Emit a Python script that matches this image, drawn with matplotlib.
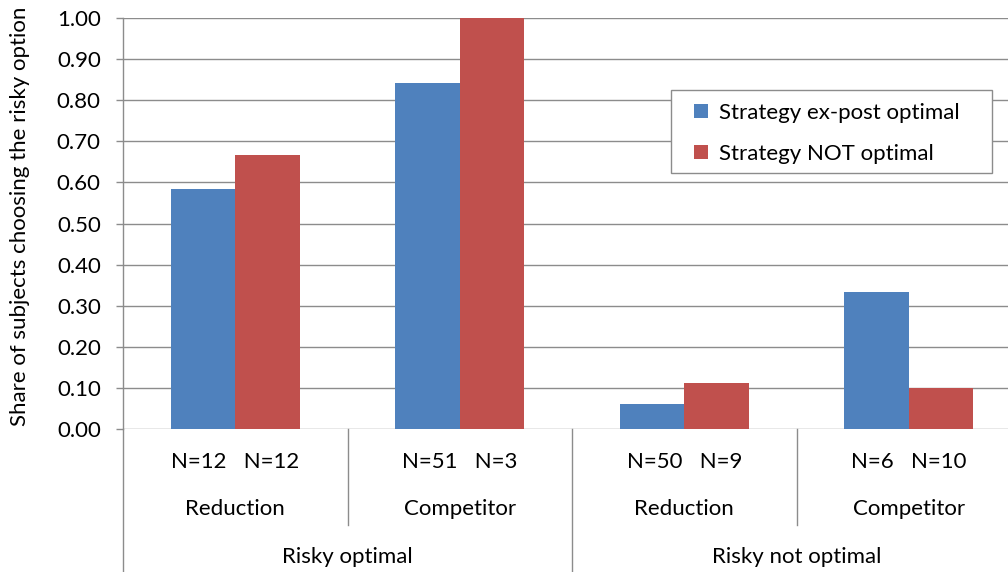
"""Bar chart: share of subjects choosing the risky option by strategy."""

import matplotlib.pyplot as plt
import matplotlib.transforms as mtransforms
from matplotlib.patches import Rectangle
import numpy as np

plt.rcParams["font.family"] = ["Lato", "DejaVu Sans"]

categories = ["Reduction", "Competitor", "Reduction", "Competitor"]
groups = ["Risky optimal", "Risky not optimal"]
n_labels = ["N=12   N=12", "N=51   N=3", "N=50   N=9", "N=6   N=10"]
series_names = ["Strategy ex-post optimal", "Strategy NOT optimal"]
ex_post_optimal = [0.583, 0.843, 0.060, 0.333]
not_optimal = [0.667, 1.000, 0.111, 0.100]

BLUE = "#4F81BD"
RED = "#C0504D"
GRID = "#8C8C8C"
FS = 16

W, H = 1008, 572
fig = plt.figure(figsize=(W / 100, H / 100), dpi=100)
ax = fig.add_axes([123 / W, (H - 429) / H, (1021 - 123) / W, (429 - 18) / H])

x = np.arange(len(categories))
bw = 0.287
ax.bar(x - bw / 2, ex_post_optimal, bw, color=BLUE, label=series_names[0], zorder=3)
ax.bar(x + bw / 2, not_optimal, bw, color=RED, label=series_names[1], zorder=3)

ax.set_xlim(-0.5, len(categories) - 0.5)
ax.set_ylim(0, 1.0)
ax.set_yticks(np.arange(0, 1.01, 0.1))
ax.set_yticklabels([f"{v:.2f}" for v in np.arange(0, 1.01, 0.1)], fontsize=FS)
ax.tick_params(axis="y", length=5, width=1, color=GRID, pad=11)
ax.set_xticks([])
ax.yaxis.grid(True, color=GRID, linewidth=1, zorder=0)
ax.set_axisbelow(True)
for side in ("top", "right", "bottom"):
    ax.spines[side].set_visible(False)
ax.spines["left"].set_color(GRID)
ax.spines["left"].set_linewidth(1)

# multi-level category axis below the plot
trans = mtransforms.blended_transform_factory(ax.transData, ax.transAxes)
y_short = -(525 - 429) / 411
y_full = -(572 - 429) / 411
for i in range(len(categories) + 1):
    xb = i - 0.5
    y_end = y_full if i % 2 == 0 else y_short
    ax.plot([xb, xb], [0, y_end], color=GRID, lw=1, transform=trans, clip_on=False)

for i, (cat, nl) in enumerate(zip(categories, n_labels)):
    ax.text(i, -(462 - 429) / 411, nl, transform=trans, ha="center", va="center", fontsize=FS)
    ax.text(i, -(509 - 429) / 411, cat, transform=trans, ha="center", va="center", fontsize=FS)
for g, name in enumerate(groups):
    ax.text(2 * g + 0.5, -(557 - 429) / 411, name, transform=trans,
            ha="center", va="center", fontsize=FS)

fig.text(20 / W, (H - 216) / H, "Share of subjects choosing the risky option",
         rotation=90, ha="center", va="center", fontsize=FS)

# legend box drawn separately so its padding can be set freely
ax.add_patch(Rectangle((671 / W, (H - 173) / H), (992 - 671) / W, (173 - 90) / H,
                       transform=fig.transFigure, facecolor="white", edgecolor=GRID,
                       linewidth=1, zorder=4, clip_on=False))
leg = ax.legend(loc="upper left", bbox_to_anchor=(694 / W, (H - 103) / H),
                bbox_transform=fig.transFigure, borderaxespad=0, borderpad=0,
                fontsize=FS, handlelength=0.62, handleheight=0.62, handletextpad=0.5,
                labelspacing=0.95, frameon=False)
leg.set_zorder(5)

fig.savefig("out.png", dpi=100)
